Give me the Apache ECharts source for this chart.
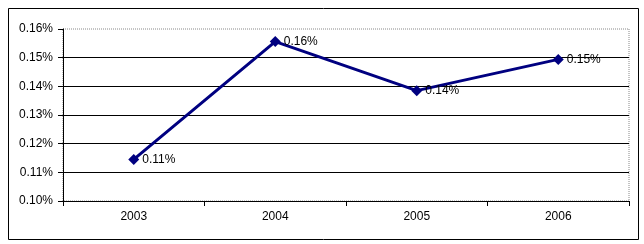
<!DOCTYPE html>
<html><head><meta charset="utf-8">
<script src="https://cdn.jsdelivr.net/npm/echarts@6/dist/echarts.min.js"></script>
<style>html,body{margin:0;padding:0;background:#fff}#c{width:644px;height:244px}</style>
</head><body><div id="c"></div>
<script>
const categories = ['2003', '2004', '2005', '2006'];
const values = [0.1145, 0.1556, 0.1385, 0.1494];
const yTicks = [0.10, 0.11, 0.12, 0.13, 0.14, 0.15, 0.16];

const chart = echarts.init(document.getElementById('c'), null, {renderer: 'canvas'});
const font = 'Liberation Sans, Arial, sans-serif';
chart.setOption({
  animation: false,
  backgroundColor: '#fff',
  graphic: [{
    type: 'rect', left: 6, top: 6, shape: {width: 630, height: 231},
    style: {fill: 'none', stroke: '#000', lineWidth: 1}, z: -1
  }],
  grid: {left: 63, right: 15, top: 29, bottom: 43, show: true, borderColor: '#888', borderType: 'dotted', borderWidth: 1, backgroundColor: 'transparent'},
  xAxis: {
    type: 'category', data: categories, boundaryGap: true,
    axisLine: {lineStyle: {color: '#000', width: 1}},
    axisTick: {show: true, interval: 0, length: 5, lineStyle: {color: '#000'}},
    axisLabel: {color: '#000', fontFamily: font, fontSize: 12, margin: 10},
    splitLine: {show: false}
  },
  yAxis: {
    type: 'value', min: yTicks[0], max: yTicks[yTicks.length - 1], interval: 0.01,
    axisLine: {show: true, lineStyle: {color: '#000', width: 1}},
    axisTick: {show: true, length: 5, lineStyle: {color: '#000'}},
    axisLabel: {color: '#000', fontFamily: font, fontSize: 12, margin: 10,
      formatter: v => v.toFixed(2) + '%'},
    splitLine: {show: true, lineStyle: {color: ['#000', '#000', '#000', '#000', '#000', '#000', 'rgba(0,0,0,0)'], width: 1}}
  },
  series: [{
    type: 'line', data: values,
    symbol: 'diamond', symbolSize: 11,
    lineStyle: {color: '#000080', width: 3},
    itemStyle: {color: '#000080'},
    label: {show: true, position: 'right', distance: 3, color: '#000', fontFamily: font, fontSize: 12,
      formatter: p => p.value.toFixed(2) + '%'}
  }]
});
</script></body></html>
